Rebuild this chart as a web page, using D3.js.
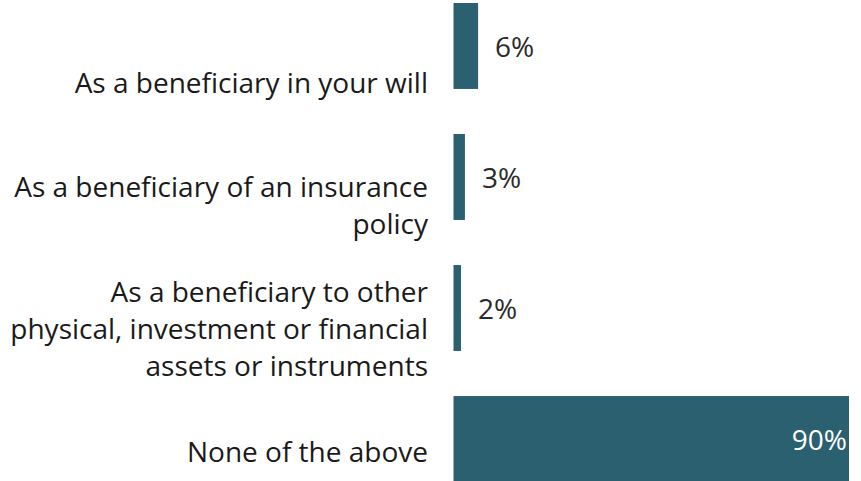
<!DOCTYPE html>
<meta charset="utf-8">
<style>
  body { margin: 0; background: #fff; }
</style>

<!-- Load d3.js -->
<script src="https://d3js.org/d3.v7.min.js"></script>

<!-- Create a div where the graph will take place -->
<div id="my_dataviz"></div>

<script>

// data
var categories = [
  "As a beneficiary in your will",
  "As a beneficiary of an insurance policy",
  "As a beneficiary to other physical, investment or financial assets or instruments",
  "None of the above"
];
var labelLines = [
  ["As a beneficiary in your will"],
  ["As a beneficiary of an insurance", "policy"],
  ["As a beneficiary to other", "physical, investment or financial", "assets or instruments"],
  ["None of the above"]
];
var values = [5.6, 2.6, 1.7, 90];

var width = 861, height = 481;
var barColor = "#2b6070";
var font = "'Open Sans', sans-serif";

var svg = d3.select("#my_dataviz")
  .append("svg")
    .attr("width", width)
    .attr("height", height)
    .style("font-variant-ligatures", "none");

// X scale
var x = d3.scaleLinear()
  .domain([0, 90])
  .range([453.5, 849]);

// Y scale for bars
var y = d3.scaleBand()
  .domain(categories)
  .range([3, 482])
  .paddingInner(0.344)
  .paddingOuter(0);

// the category labels sit a bit lower than the bars
var yLab = d3.scaleBand()
  .domain(categories)
  .range([21, 514]);

// bars
svg.append("g")
  .selectAll("rect")
  .data(values)
  .enter()
  .append("rect")
    .attr("x", x(0))
    .attr("y", function(d, i) { return y(categories[i]); })
    .attr("width", function(d) { return x(d) - x(0); })
    .attr("height", y.bandwidth())
    .style("fill", barColor);

// category labels
var lineH = 37;
var labels = svg.append("g")
  .selectAll("text")
  .data(labelLines)
  .enter()
  .append("text")
    .attr("text-anchor", "end")
    .style("font-family", font)
    .style("font-size", "28px")
    .style("fill", "#1a1a1a");

labels.each(function(lines, i) {
  var c = yLab(categories[i]) + yLab.bandwidth() / 2;
  var first = c - (lines.length - 1) * lineH / 2 + 10;
  d3.select(this).selectAll("tspan")
    .data(lines)
    .enter()
    .append("tspan")
      .attr("x", 428)
      .attr("y", function(d, j) { return first + j * lineH; })
      .text(function(d) { return d; });
});

// value labels
var fmt = function(d) { return Math.round(d) + "%"; };
svg.append("g")
  .selectAll("text")
  .data(values)
  .enter()
  .append("text")
    .attr("x", function(d) { return d > 50 ? x(d) - 2 : x(d) + 17; })
    .attr("y", function(d, i) { return y(categories[i]) + y.bandwidth() / 2 + 1; })
    .attr("dy", "0.35em")
    .attr("text-anchor", function(d) { return d > 50 ? "end" : "start"; })
    .style("font-family", font)
    .style("font-size", "28px")
    .style("fill", function(d) { return d > 50 ? "#fff" : "#2a2a2a"; })
    .text(fmt);

</script>
